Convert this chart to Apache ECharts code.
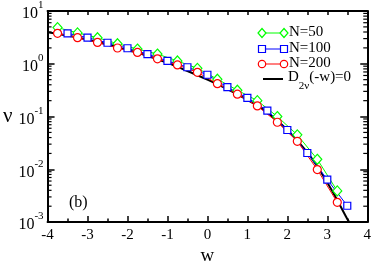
<!DOCTYPE html>
<html><head><meta charset="utf-8">
<script src="https://cdn.jsdelivr.net/npm/echarts@6/dist/echarts.min.js"></script>
<style>html,body{margin:0;padding:0;background:#fff}#c{width:374px;height:271px}</style>
</head><body><div id="c"></div>
<script>
// ---- data ----
const w50 = [-3.75,-3.25,-2.75,-2.25,-1.75,-1.25,-0.75,-0.25,0.25,0.75,1.25,1.75,2.25,2.75,3.25];
const v50 = [4.85,3.85,3.12,2.40,1.90,1.53,1.13,0.82,0.51,0.316,0.20,0.100,0.045,0.0155,0.0039];
const w100 = [-3.5,-3,-2.5,-2,-1.5,-1,-0.5,0,0.5,1,1.5,2,2.5,3,3.5];
const v100 = [3.78,3.12,2.50,1.97,1.53,1.13,0.86,0.62,0.36,0.225,0.13,0.0556,0.0204,0.00637,0.00204];
const w200 = [-3.75,-3.25,-2.75,-2.25,-1.75,-1.25,-0.75,-0.25,0.25,0.75,1.25,1.75,2.25,2.75,3.25];
const v200 = [3.78,3.12,2.54,1.99,1.64,1.24,0.95,0.69,0.42,0.265,0.159,0.078,0.034,0.0099,0.00237];
const wD = [-4,-3.5,-3,-2.5,-2,-1.5,-1,-0.5,0,0.5,1,1.5,2,2.5,2.75,3,3.25,3.5,3.55];
const vD = [3.96,3.43,2.85,2.32,1.82,1.42,1.04,0.73,0.50,0.33,0.206,0.120,0.056,0.021,0.0113,0.0056,0.0026,0.00115,0.001];
const seriesNames = ['N=50','N=100','N=200'];
const xTicks = [-4,-3,-2,-1,0,1,2,3,4];
const yDecades = [-3,-2,-1,0];
const yMantissas = [2,3,4,5,6,7,8,9];

const FONT = "'Liberation Serif','Times New Roman',serif";
const zip = (a,b)=>a.map((x,i)=>[x,b[i]]);
const minorVals = [];
yDecades.forEach(e=>yMantissas.forEach(m=>minorVals.push([-4, m*Math.pow(10,e)])));

const chart = echarts.init(document.getElementById('c'), null, {renderer:'canvas'});
const axisLine = {show:true, onZero:false, lineStyle:{color:'#000', width:2}};
const option = {
  animation:false,
  backgroundColor:'#fff',
  grid:{left:47, top:11, width:321, height:224, containLabel:false},
  xAxis:[{
    type:'value', min:-4, max:4, interval:1, position:'bottom',
    axisLine, splitLine:{show:false},
    axisTick:{inside:true, length:6, lineStyle:{color:'#000', width:1.5}},
    minorTick:{show:true, splitNumber:2, length:3.5, lineStyle:{color:'#000', width:1.5}},
    axisLabel:{color:'#000', fontFamily:FONT, fontSize:15, margin:5,
      formatter:v=>String(v)},
    name:'w', nameLocation:'middle', nameGap:24,
    nameTextStyle:{color:'#000', fontFamily:FONT, fontSize:19}
  },{
    type:'value', min:-4, max:4, interval:1, position:'top',
    axisLine, splitLine:{show:false},
    axisTick:{inside:true, length:4, lineStyle:{color:'#000', width:1.5}},
    minorTick:{show:true, splitNumber:2, length:4, lineStyle:{color:'#000', width:1.5}},
    axisLabel:{show:false}
  }],
  yAxis:[{
    type:'log', logBase:10, min:0.001, max:10, position:'left',
    axisLine, splitLine:{show:false},
    axisTick:{inside:true, length:7, lineStyle:{color:'#000', width:1.5}},
    axisLabel:{color:'#000', fontFamily:FONT, margin:4,
      formatter:v=>'{b|10}{s|'+Math.round(Math.log10(v))+'}',
      rich:{
        b:{fontFamily:FONT, fontSize:16, color:'#000', lineHeight:22, verticalAlign:'bottom'},
        s:{fontFamily:FONT, fontSize:11, color:'#000', lineHeight:22, verticalAlign:'top'}
      }},
    name:'ν', nameLocation:'middle', nameGap:31, nameRotate:0,
    nameTextStyle:{color:'#000', fontFamily:FONT, fontSize:21, align:'center', verticalAlign:'middle'}
  },{
    type:'log', logBase:10, min:0.001, max:10, position:'right',
    axisLine, splitLine:{show:false},
    axisTick:{inside:true, length:7, lineStyle:{color:'#000', width:1.5}},
    axisLabel:{show:false}
  }],
  series:[
    {type:'custom', name:'minor', xAxisIndex:0, yAxisIndex:0, silent:true, clip:false, z:5,
      data:minorVals,
      renderItem:(params, api)=>{
        const v = api.value(1);
        const l = api.coord([-4, v]);
        const r = api.coord([4, v]);
        return {type:'group', children:[
          {type:'line', shape:{x1:l[0], y1:l[1], x2:l[0]+4, y2:l[1]}, style:{stroke:'#000', lineWidth:1.2}},
          {type:'line', shape:{x1:r[0]-4, y1:r[1], x2:r[0], y2:r[1]}, style:{stroke:'#000', lineWidth:1.2}}
        ]};
      }},
    {type:'line', name:'D', data:zip(wD, vD), smooth:0.3, showSymbol:false, symbol:'none',
      lineStyle:{color:'#000', width:2}, z:3},
    {type:'line', name:seriesNames[0], data:zip(w50, v50), symbol:'diamond', symbolSize:[9,10],
      lineStyle:{color:'#00ff00', width:1}, itemStyle:{color:'#fff', borderColor:'#00ff00', borderWidth:1.2}, z:4},
    {type:'line', name:seriesNames[1], data:zip(w100, v100), symbol:'rect', symbolSize:7,
      lineStyle:{color:'#0000ff', width:1}, itemStyle:{color:'#fff', borderColor:'#0000ff', borderWidth:1.2}, z:4},
    {type:'line', name:seriesNames[2], data:zip(w200, v200), symbol:'circle', symbolSize:8,
      lineStyle:{color:'#ff0000', width:1}, itemStyle:{color:'#fff', borderColor:'#ff0000', borderWidth:1.2}, z:4}
  ],
  graphic:[
    // legend
    {type:'line', shape:{x1:262,y1:33,x2:284,y2:33}, style:{stroke:'#00ff00', lineWidth:1}},
    {type:'polygon', shape:{points:[[262,28.5],[266,33],[262,37.5],[258,33]]}, style:{fill:'#fff', stroke:'#00ff00', lineWidth:1.2}},
    {type:'polygon', shape:{points:[[284,28.5],[288,33],[284,37.5],[280,33]]}, style:{fill:'#fff', stroke:'#00ff00', lineWidth:1.2}},
    {type:'text', left:289, top:25, style:{text:seriesNames[0], font:'15px '+FONT, fill:'#000'}},
    {type:'line', shape:{x1:262,y1:49,x2:284,y2:49}, style:{stroke:'#0000ff', lineWidth:1}},
    {type:'rect', shape:{x:258.5,y:45.5,width:7,height:7}, style:{fill:'#fff', stroke:'#0000ff', lineWidth:1.2}},
    {type:'rect', shape:{x:280.5,y:45.5,width:7,height:7}, style:{fill:'#fff', stroke:'#0000ff', lineWidth:1.2}},
    {type:'text', left:289, top:41, style:{text:seriesNames[1], font:'15px '+FONT, fill:'#000'}},
    {type:'line', shape:{x1:262,y1:64,x2:284,y2:64}, style:{stroke:'#ff0000', lineWidth:1}},
    {type:'circle', shape:{cx:262,cy:64,r:3.7}, style:{fill:'#fff', stroke:'#ff0000', lineWidth:1.2}},
    {type:'circle', shape:{cx:284,cy:64,r:3.7}, style:{fill:'#fff', stroke:'#ff0000', lineWidth:1.2}},
    {type:'text', left:289, top:56, style:{text:seriesNames[2], font:'15px '+FONT, fill:'#000'}},
    {type:'line', shape:{x1:263,y1:79,x2:283,y2:79}, style:{stroke:'#000', lineWidth:2}},
    {type:'text', left:288, top:70, style:{
      text:'{m|D}{sub|2ν}{m|(-w)=0}',
      rich:{
        m:{font:'15px '+FONT, fill:'#000', lineHeight:22, verticalAlign:'top'},
        sub:{font:'11px '+FONT, fill:'#000', lineHeight:22, verticalAlign:'bottom'}
      }}},
    {type:'text', left:69, top:195, style:{text:'(b)', font:'16px '+FONT, fill:'#000'}}
  ]
};
chart.setOption(option);
</script></body></html>
